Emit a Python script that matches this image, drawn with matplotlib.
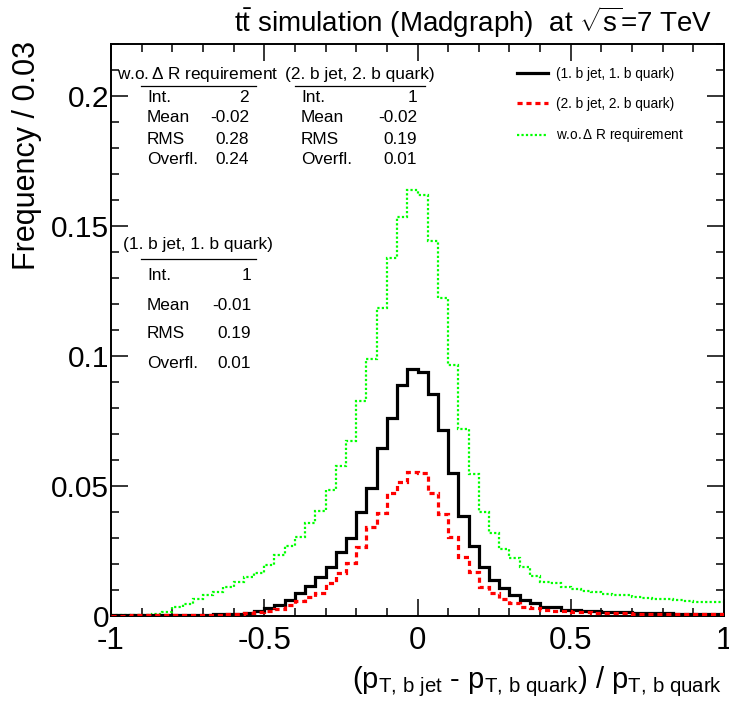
import numpy as np
import matplotlib
matplotlib.use("Agg")
import matplotlib.pyplot as plt
from matplotlib.lines import Line2D
from matplotlib.ticker import MultipleLocator

plt.rcParams['font.family'] = ['Liberation Sans', 'DejaVu Sans']
plt.rcParams['mathtext.fontset'] = 'custom'
plt.rcParams['mathtext.rm'] = 'Liberation Sans'
plt.rcParams['mathtext.it'] = 'Liberation Sans:italic'
plt.rcParams['mathtext.bf'] = 'Liberation Sans:bold'

# ---------------- data ----------------
x_min, x_max, n_bins = -1.0, 1.0, 60

jet1_quark1 = [0.0003, 0.0003, 0.0003, 0.0003, 0.0004, 0.0004, 0.0004, 0.0005, 0.0005, 0.0005,
               0.0006, 0.0007, 0.0009, 0.0012, 0.0018, 0.0030, 0.0042, 0.0062, 0.0087, 0.0115,
               0.0151, 0.0187, 0.0247, 0.0301, 0.0401, 0.0494, 0.0645, 0.0760, 0.0888, 0.0950,
               0.0940, 0.0853, 0.0715, 0.0549, 0.0385, 0.0270, 0.0190, 0.0138, 0.0106, 0.0081,
               0.0062, 0.0049, 0.0036, 0.0033, 0.0024, 0.0023, 0.0021, 0.0019, 0.0017, 0.0016,
               0.0014, 0.0013, 0.0012, 0.0011, 0.0010, 0.0009, 0.0008, 0.0008, 0.0007, 0.0007]

jet2_quark2 = [0.0001, 0.0001, 0.0002, 0.0002, 0.0002, 0.0003, 0.0003, 0.0003, 0.0004, 0.0004,
               0.0005, 0.0006, 0.0007, 0.0010, 0.0014, 0.0020, 0.0028, 0.0042, 0.0056, 0.0072,
               0.0087, 0.0126, 0.0164, 0.0203, 0.0267, 0.0344, 0.0395, 0.0472, 0.0517, 0.0555,
               0.0551, 0.0474, 0.0392, 0.0305, 0.0228, 0.0168, 0.0110, 0.0087, 0.0064, 0.0049,
               0.0036, 0.0030, 0.0023, 0.0020, 0.0018, 0.0016, 0.0014, 0.0013, 0.0012, 0.0011,
               0.0010, 0.0009, 0.0009, 0.0008, 0.0008, 0.0007, 0.0007, 0.0006, 0.0006, 0.0006]

no_dr_req = [0.0002, 0.0002, 0.0003, 0.0004, 0.0008, 0.0017, 0.0033, 0.0047, 0.0064, 0.0081,
             0.0094, 0.0113, 0.0132, 0.0151, 0.0164, 0.0196, 0.0235, 0.0269, 0.0305, 0.0356,
             0.0404, 0.0485, 0.0577, 0.0673, 0.0827, 0.0987, 0.1186, 0.1378, 0.1533, 0.1638,
             0.1619, 0.1442, 0.1224, 0.0965, 0.0718, 0.0545, 0.0399, 0.0320, 0.0258, 0.0222,
             0.0187, 0.0155, 0.0132, 0.0128, 0.0110, 0.0103, 0.0097, 0.0091, 0.0083, 0.0081,
             0.0080, 0.0074, 0.0071, 0.0065, 0.0064, 0.0062, 0.0058, 0.0055, 0.0053, 0.0053]

legend_labels = ["(1. b jet, 1. b quark)", "(2. b jet, 2. b quark)", "w.o.$\\,\\Delta$ R requirement"]

x_tick_labels = ["-1", "-0.5", "0", "0.5", "1"]
y_tick_labels = ["0", "0.05", "0.1", "0.15", "0.2"]

stat_names = ["Int.", "Mean", "RMS", "Overfl."]
stats_no_dr = ["2", "-0.02", "0.28", "0.24"]
stats_j2q2 = ["1", "-0.02", "0.19", "0.01"]
stats_j1q1 = ["1", "-0.01", "0.19", "0.01"]

# ---------------- figure ----------------
W, H = 729, 711
fig = plt.figure(figsize=(W / 100, H / 100), dpi=100)


def fx(x):
    return x / W


def fy(y):
    return 1 - y / H


ax = fig.add_axes([fx(111), fy(616), fx(724) - fx(111), fy(44) - fy(616)])
edges = np.linspace(x_min, x_max, n_bins + 1)

ax.stairs(no_dr_req, edges, baseline=None, color='#00ff00', lw=1.6, linestyle=(0, (1, 1)), zorder=2)
ax.stairs(jet1_quark1, edges, baseline=None, color='black', lw=2.3, zorder=3)
ax.stairs(jet2_quark2, edges, baseline=None, color='#ff0000', lw=2.3, linestyle=(0, (1.6, 1.2)), zorder=4)

ax.set_xlim(-1, 1)
ax.set_ylim(0, 0.22)
ax.xaxis.set_major_locator(MultipleLocator(0.5))
ax.xaxis.set_minor_locator(MultipleLocator(0.1))
ax.yaxis.set_major_locator(MultipleLocator(0.05))
ax.yaxis.set_minor_locator(MultipleLocator(0.01))
ax.tick_params(which='both', direction='in', top=True, right=True, width=1.1)
ax.tick_params(axis='y', which='both', pad=1.5, labelsize=21.5)
ax.tick_params(axis='x', which='both', pad=7, labelsize=22.5)
ax.tick_params(which='major', length=12)
ax.tick_params(which='minor', length=6)
for s in ax.spines.values():
    s.set_linewidth(1.4)

ax.set_xticks([-1, -0.5, 0, 0.5, 1])
ax.set_xticklabels(x_tick_labels)
ax.set_yticks([0, 0.05, 0.1, 0.15, 0.2])
ax.set_yticklabels(y_tick_labels)

fig.text(fx(27), fy(41), "Frequency / 0.03", fontsize=22, rotation=90, ha='center', va='top')
fig.text(fx(722), fy(688),
         r"$(\mathrm{p}_{\mathrm{T,\,b\ jet}}$ - $\mathrm{p}_{\mathrm{T,\,b\ quark}})$ / $\mathrm{p}_{\mathrm{T,\,b\ quark}}$",
         fontsize=21, ha='right', va='baseline')

fig.text(fx(712), fy(32), r"$\mathrm{t\bar{t}}$ simulation (Madgraph)  at $\sqrt{\mathrm{s}}$=7 TeV",
         fontsize=20, ha='right', va='baseline')

# ---------------- stat boxes ----------------
def stat_box(title, title_x, title_y, line_x0, line_x1, line_y, label_x, value_x, row_ys, values):
    fig.text(fx(title_x), fy(title_y), title, fontsize=12.4, ha='left', va='center')
    fig.add_artist(Line2D([fx(line_x0), fx(line_x1)], [fy(line_y), fy(line_y)],
                          color='black', lw=0.9, transform=fig.transFigure))
    for name, val, yy in zip(stat_names, values, row_ys):
        fig.text(fx(label_x), fy(yy), name, fontsize=12.4, ha='left', va='center')
        fig.text(fx(value_x), fy(yy), val, fontsize=12.4, ha='right', va='center')


stat_box("w.o.$\\,\\Delta$ R requirement", 117, 75, 141, 256, 86, 147, 249,
         [98, 118, 139, 160], stats_no_dr)
stat_box("(2. b jet, 2. b quark)", 285, 75, 295, 425, 86, 301, 417,
         [98, 118, 139, 160], stats_j2q2)
stat_box("(1. b jet, 1. b quark)", 123, 244, 141, 256, 259, 147, 251,
         [275, 305, 334, 363], stats_j1q1)

# ---------------- legend ----------------
handles = [Line2D([], [], color='black', lw=2.3),
           Line2D([], [], color='#ff0000', lw=2.3, linestyle=(0, (1.6, 1.2))),
           Line2D([], [], color='#00ff00', lw=1.6, linestyle=(0, (1, 1)))]
fig.legend(handles, legend_labels, loc='upper left', bbox_to_anchor=(fx(517), fy(67)),
           frameon=False, fontsize=9.8, borderpad=0, borderaxespad=0,
           handlelength=2.3, handletextpad=0.55, labelspacing=1.15)

fig.savefig("out.png", dpi=100)
